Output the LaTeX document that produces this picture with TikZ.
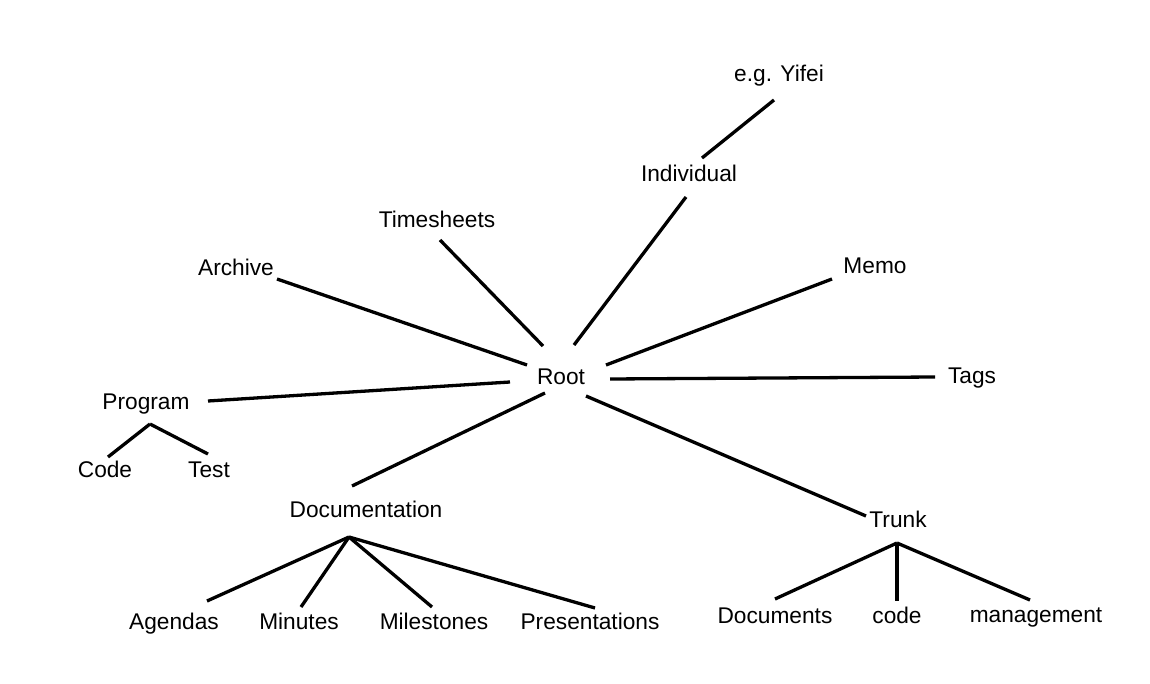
\documentclass[tikz,border=0pt]{standalone}
\usepackage{fontspec}
\setmainfont{Liberation Sans}
\begin{document}
\begin{tikzpicture}[x=1pt,y=-1pt,
  lbl/.style={anchor=base,inner sep=0pt,font=\fontsize{22.7}{27}\selectfont},
  conn/.style={line width=3.3pt}]
\useasboundingbox[fill=white] (0,0) rectangle (1150,684);
% labels (placed on baselines)
\node[lbl] (yifei) at (779,82) {e.g. Yifei};
\node[lbl] (individual) at (689,182) {Individual};
\node[lbl] (timesheets) at (437,228) {Timesheets};
\node[lbl] (archive) at (236,276) {Archive};
\node[lbl] (memo) at (875,274) {Memo};
\node[lbl] (root) at (561,384) {Root};
\node[lbl] (tags) at (972,383) {Tags};
\node[lbl] (program) at (146,409) {Program};
\node[lbl] (codeP) at (105,477) {Code};
\node[lbl] (test) at (209,477) {Test};
\node[lbl] (documentation) at (366,517) {Documentation};
\node[lbl] (trunk) at (898,527) {Trunk};
\node[lbl] (agendas) at (174,629) {Agendas};
\node[lbl] (minutes) at (299,629) {Minutes};
\node[lbl] (milestones) at (434,629) {Milestones};
\node[lbl] (presentations) at (590,629) {Presentations};
\node[lbl] (documents) at (775,623) {Documents};
\node[lbl] (codeT) at (897,623) {code};
\node[lbl] (management) at (1036,622) {management};
% connector end points
\coordinate (archive-e) at (277,279);   \coordinate (root-archive) at (527,365);
\coordinate (timesheets-e) at (440,240); \coordinate (root-timesheets) at (543,346);
\coordinate (individual-s) at (686,197); \coordinate (root-individual) at (574,345);
\coordinate (yifei-s) at (774,100);     \coordinate (individual-n) at (702,158);
\coordinate (memo-e) at (832,279);      \coordinate (root-memo) at (606,365);
\coordinate (tags-e) at (935,377);      \coordinate (root-tags) at (610,379);
\coordinate (program-e) at (208,401);   \coordinate (root-program) at (510,382);
\coordinate (documentation-e) at (352,486); \coordinate (root-documentation) at (545,393);
\coordinate (trunk-e) at (866,516);     \coordinate (root-trunk) at (586,396);
\coordinate (program-hub) at (150,424);
\coordinate (codeP-e) at (108,457);     \coordinate (test-e) at (208,454);
\coordinate (documentation-hub) at (349,537);
\coordinate (agendas-e) at (207,601);   \coordinate (minutes-e) at (301,607);
\coordinate (milestones-e) at (432,607); \coordinate (presentations-e) at (595,608);
\coordinate (trunk-hub) at (897,543);
\coordinate (documents-e) at (775,599); \coordinate (codeT-e) at (897,601);
\coordinate (management-e) at (1030,600);
% connectors
\draw[conn] (archive-e) -- (root-archive);
\draw[conn] (timesheets-e) -- (root-timesheets);
\draw[conn] (individual-s) -- (root-individual);
\draw[conn] (yifei-s) -- (individual-n);
\draw[conn] (memo-e) -- (root-memo);
\draw[conn] (tags-e) -- (root-tags);
\draw[conn] (program-e) -- (root-program);
\draw[conn] (documentation-e) -- (root-documentation);
\draw[conn] (trunk-e) -- (root-trunk);
\draw[conn] (program-hub) -- (codeP-e);
\draw[conn] (program-hub) -- (test-e);
\draw[conn] (documentation-hub) -- (agendas-e);
\draw[conn] (documentation-hub) -- (minutes-e);
\draw[conn] (documentation-hub) -- (milestones-e);
\draw[conn] (documentation-hub) -- (presentations-e);
\draw[conn] (trunk-hub) -- (documents-e);
\draw[conn] (trunk-hub) -- (codeT-e);
\draw[conn] (trunk-hub) -- (management-e);
\end{tikzpicture}
\end{document}
